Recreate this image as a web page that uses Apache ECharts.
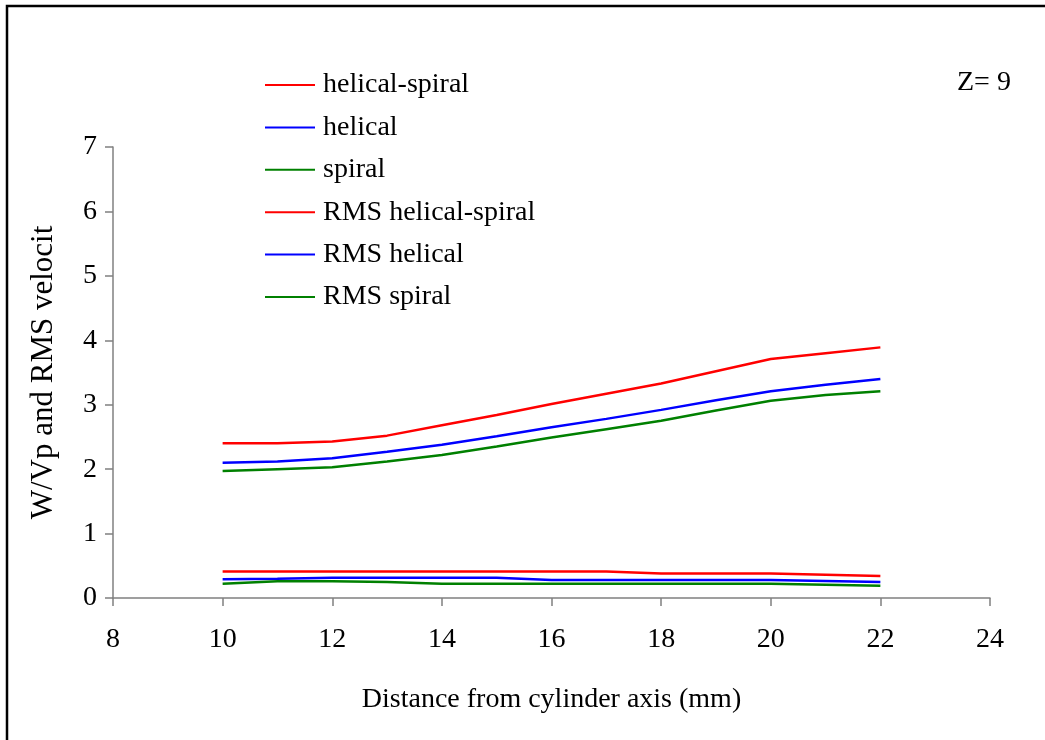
<!DOCTYPE html>
<html>
<head>
<meta charset="utf-8">
<script src="https://cdn.jsdelivr.net/npm/echarts@6/dist/echarts.min.js"></script>
<style>
  html, body { margin: 0; padding: 0; background: #fff; }
  #chart { width: 1045px; height: 740px; }
</style>
</head>
<body>
<div id="chart"></div>
<script>
// Radial positions (mm)
const distances = [10, 11, 12, 13, 14, 15, 16, 17, 18, 19, 20, 21, 22];

// Mean axial velocity W/Vp
const helicalSpiral = [2.40, 2.40, 2.43, 2.52, 2.68, 2.84, 3.01, 3.17, 3.33, 3.52, 3.71, 3.80, 3.89];
const helical       = [2.10, 2.12, 2.17, 2.27, 2.38, 2.51, 2.65, 2.78, 2.92, 3.07, 3.21, 3.31, 3.40];
const spiral        = [1.97, 2.00, 2.03, 2.12, 2.22, 2.35, 2.49, 2.62, 2.75, 2.91, 3.06, 3.15, 3.21];

// RMS velocity
const rmsHelicalSpiral = [0.41, 0.41, 0.41, 0.41, 0.41, 0.41, 0.41, 0.41, 0.38, 0.38, 0.38, 0.36, 0.34];
const rmsHelical       = [0.29, 0.30, 0.315, 0.315, 0.315, 0.315, 0.28, 0.28, 0.28, 0.28, 0.28, 0.265, 0.25];
const rmsSpiral        = [0.22, 0.26, 0.26, 0.25, 0.22, 0.22, 0.22, 0.22, 0.22, 0.22, 0.22, 0.205, 0.19];

const seriesNames = ['helical-spiral', 'helical', 'spiral', 'RMS helical-spiral', 'RMS helical', 'RMS spiral'];
const seriesValues = [helicalSpiral, helical, spiral, rmsHelicalSpiral, rmsHelical, rmsSpiral];
const seriesColors = ['#ff0000', '#0000ff', '#008000', '#ff0000', '#0000ff', '#008000'];

const FONT = '"Liberation Serif", "Times New Roman", serif';

const chart = echarts.init(document.getElementById('chart'), null, { renderer: 'canvas' });

const series = seriesNames.map((name, i) => ({
  name: name,
  type: 'line',
  data: distances.map((d, k) => [d, seriesValues[i][k]]),
  showSymbol: false,
  symbol: 'none',
  lineStyle: { color: seriesColors[i], width: 2.5 },
  itemStyle: { color: seriesColors[i] },
  animation: false
}));

chart.setOption({
  backgroundColor: '#ffffff',
  animation: false,
  grid: { left: 113, right: 55, top: 147, bottom: 142, containLabel: false },
  legend: {
    orient: 'vertical',
    left: 260,
    top: 66,
    icon: 'rect',
    itemWidth: 50,
    itemHeight: 2,
    itemGap: 14.4,
    data: seriesNames,
    textStyle: { fontFamily: FONT, fontSize: 28, color: '#000', lineHeight: 28, padding: [0, 0, 0, 3] }
  },
  xAxis: {
    type: 'value',
    min: 8,
    max: 24,
    interval: 2,
    name: 'Distance from cylinder axis (mm)',
    nameLocation: 'middle',
    nameGap: 88,
    nameTextStyle: { fontFamily: FONT, fontSize: 28, color: '#000' },
    axisLine: { show: true, lineStyle: { color: '#808080', width: 1.5 } },
    axisTick: { show: true, length: 8, lineStyle: { color: '#808080', width: 1.5 } },
    axisLabel: { fontFamily: FONT, fontSize: 28, color: '#000', margin: 28 },
    splitLine: { show: false }
  },
  yAxis: {
    type: 'value',
    min: 0,
    max: 7,
    interval: 1,
    name: 'W/Vp and RMS velocity',
    nameLocation: 'middle',
    nameGap: 54,
    nameTruncate: { maxWidth: 296, ellipsis: '' },
    nameTextStyle: {
      fontFamily: FONT, fontSize: 31, color: '#000',
      width: 296, overflow: 'truncate', ellipsis: ''
    },
    axisLine: { show: true, lineStyle: { color: '#808080', width: 1.5 } },
    axisTick: { show: true, length: 8, lineStyle: { color: '#808080', width: 1.5 } },
    axisLabel: { fontFamily: FONT, fontSize: 28, color: '#000', margin: 16 },
    splitLine: { show: false }
  },
  graphic: [
    {
      type: 'rect',
      shape: { x: 7, y: 6, width: 1100, height: 800 },
      style: { fill: 'none', stroke: '#000', lineWidth: 2.5 },
      silent: true
    },
    {
      type: 'text',
      left: 957,
      top: 69,
      style: { text: 'Z= 9', font: '28px ' + FONT, fill: '#000' },
      silent: true
    }
  ],
  series: series
});
</script>
</body>
</html>
